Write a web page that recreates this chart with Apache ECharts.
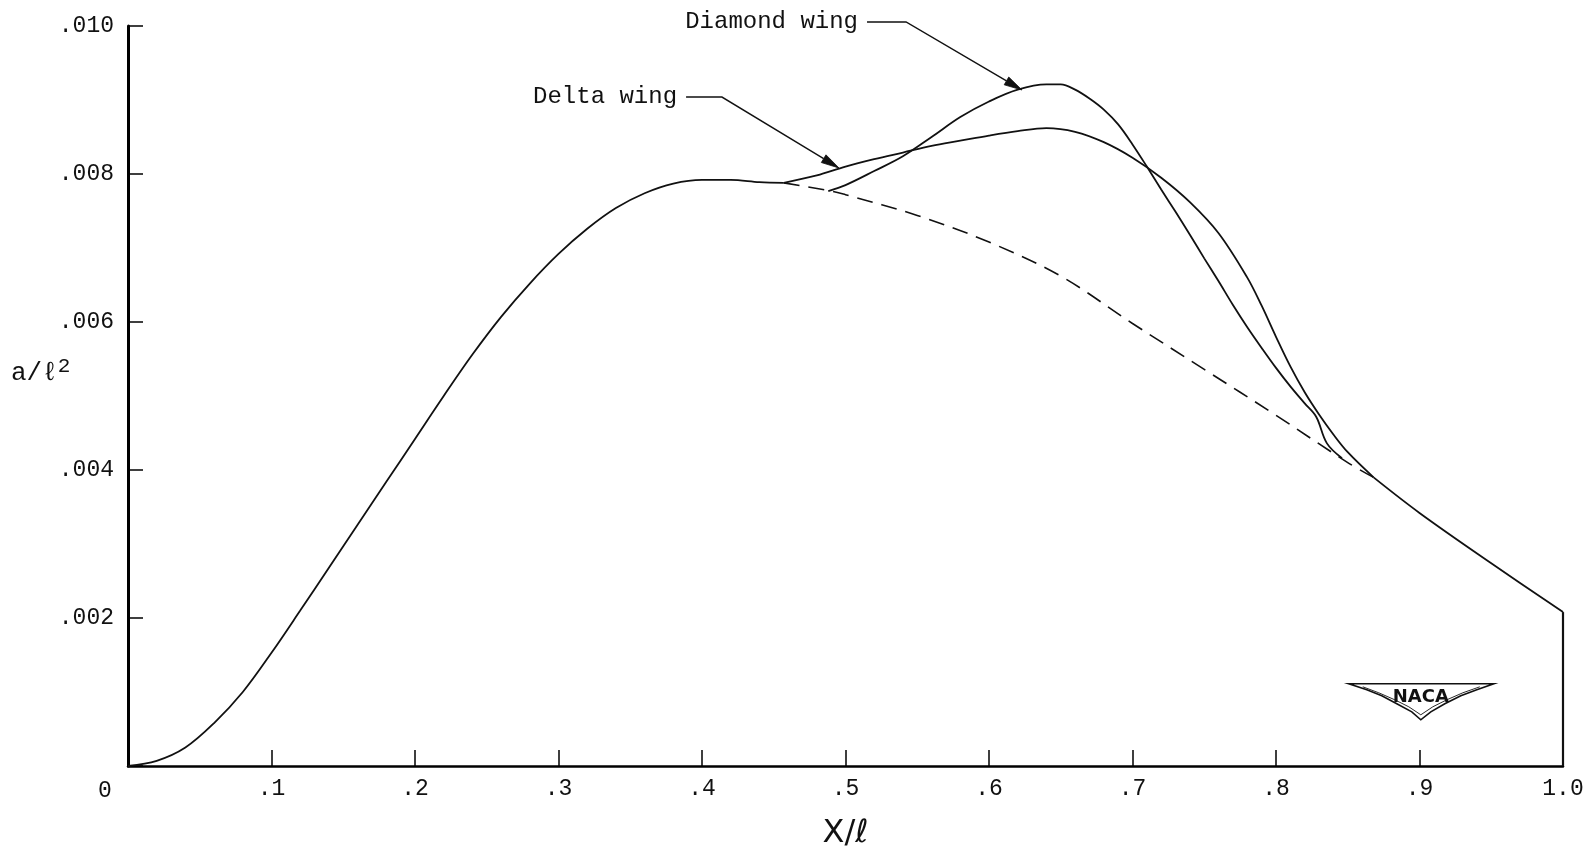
<!DOCTYPE html>
<html>
<head>
<meta charset="utf-8">
<title>a/l2 vs X/l</title>
<script src="https://cdn.jsdelivr.net/npm/echarts@6/dist/echarts.min.js"></script>
<style>
  html, body { margin: 0; padding: 0; background: #fff; }
  #chart { width: 1588px; height: 856px; }
</style>
</head>
<body>
<div id="chart"></div>
<script>
// common body curve, up to where the wing curves leave it
const common = [
  [0, 0], [0.02, 0.00007], [0.04, 0.00025], [0.06, 0.00058], [0.08, 0.00100],
  [0.1, 0.00153], [0.12, 0.00210], [0.14, 0.00268], [0.16, 0.00326], [0.18, 0.00384],
  [0.2, 0.00442], [0.22, 0.00500], [0.24, 0.00556], [0.26, 0.00607], [0.28, 0.00652],
  [0.3, 0.00692], [0.32, 0.00726], [0.34, 0.00754], [0.36, 0.00774], [0.38, 0.00787],
  [0.4, 0.00792], [0.42, 0.00792], [0.44, 0.00789], [0.457, 0.00788]
];

// delta wing branch
const delta = [
  [0.457, 0.00788], [0.48, 0.00798], [0.5, 0.00810], [0.52, 0.00820], [0.54, 0.00829],
  [0.56, 0.00838], [0.58, 0.00845], [0.6, 0.00852], [0.62, 0.00858], [0.64, 0.00862],
  [0.66, 0.00857], [0.68, 0.00843], [0.70, 0.00822], [0.72, 0.00795], [0.74, 0.00762],
  [0.76, 0.00720], [0.78, 0.00660], [0.79, 0.00622], [0.80, 0.00580], [0.81, 0.00540],
  [0.82, 0.00505], [0.83, 0.00475], [0.84, 0.00448], [0.85, 0.00424], [0.868, 0.00390]
];

// diamond wing branch
const diamond = [
  [0.488, 0.00777], [0.50, 0.00785], [0.52, 0.00804], [0.54, 0.00824], [0.56, 0.00850],
  [0.58, 0.00877], [0.60, 0.00898], [0.62, 0.00914], [0.64, 0.00921], [0.65, 0.00921],
  [0.66, 0.00914], [0.67, 0.00902], [0.68, 0.00887], [0.69, 0.00867], [0.70, 0.00840],
  [0.71, 0.00810], [0.72, 0.00779], [0.73, 0.00749], [0.74, 0.00718], [0.75, 0.00686],
  [0.76, 0.00655], [0.77, 0.00623], [0.78, 0.00593], [0.79, 0.00565], [0.80, 0.00538],
  [0.81, 0.00513], [0.82, 0.00490], [0.828, 0.00472], [0.8355, 0.00436], [0.846, 0.00416]
];

// body alone (dashed)
const body = [
  [0.457, 0.00788], [0.49, 0.00777], [0.5, 0.00772], [0.55, 0.00744], [0.6, 0.00708],
  [0.65, 0.00662], [0.7, 0.00598], [0.75, 0.00536], [0.8, 0.00474], [0.85, 0.00410],
  [0.868, 0.00390]
];

// common tail after the curves meet again
const tail = [[0.868, 0.00390], [0.9, 0.00342], [0.95, 0.00274], [1.0, 0.00208]];
const tailEnd = [[1.0, 0.00208], [1.0, 0]];

// annotation anchors (data units): label end, elbow, arrow tip
const diamondNote = { text: 'Diamond wing', pts: [[0.515, 0.010054], [0.5422, 0.010054], [0.623, 0.009135]] };
const deltaNote = { text: 'Delta wing', pts: [[0.3889, 0.00904], [0.4139, 0.00904], [0.4955, 0.008081]] };

const chart = echarts.init(document.getElementById('chart'));

const mono = 'Liberation Mono';
const ink = '#111';
const lineStyle = { color: ink, width: 1.8 };

const option = {
  backgroundColor: '#fff',
  animation: false,
  grid: { left: 128, right: 25, top: 26, bottom: 90, containLabel: false },
  xAxis: {
    type: 'value',
    min: 0, max: 1.0, interval: 0.1,
    splitLine: { show: false },
    axisLine: { lineStyle: { color: '#000', width: 2.5 } },
    axisTick: { inside: true, length: 16, lineStyle: { color: '#000', width: 1.5 } },
    axisLabel: {
      margin: 11,
      color: ink,
      fontFamily: mono,
      fontSize: 23,
      formatter: function (v) {
        if (v === 0) return '{z|0}';
        if (Math.abs(v - 1) < 1e-9) return '1.0';
        return v.toFixed(1).replace(/^0/, '');
      },
      rich: { z: { fontFamily: mono, fontSize: 23, color: ink, padding: [2, 46, 0, 0] } }
    },
    name: 'X/ℓ',
    nameLocation: 'middle',
    nameGap: 52,
    nameTextStyle: { fontFamily: 'DejaVu Sans', fontSize: 32, color: ink }
  },
  yAxis: {
    type: 'value',
    min: 0, max: 0.010, interval: 0.002,
    splitLine: { show: false },
    axisLine: { lineStyle: { color: '#000', width: 3 } },
    axisTick: { inside: true, length: 15, lineStyle: { color: '#000', width: 1.5 } },
    axisLabel: {
      margin: 14,
      color: ink,
      fontFamily: mono,
      fontSize: 23,
      formatter: function (v) {
        if (v === 0) return '';
        return v.toFixed(3).replace(/^0/, '');
      }
    }
  },
  series: [
    { name: 'common', type: 'line', data: common, smooth: 0.35,
      symbol: 'none', lineStyle: lineStyle },
    { name: 'Delta wing', type: 'line', data: delta, smooth: 0.35,
      symbol: 'none', lineStyle: lineStyle },
    { name: 'Diamond wing', type: 'line', data: diamond, smooth: 0.35,
      symbol: 'none', lineStyle: lineStyle },
    { name: 'body', type: 'line', data: body, smooth: 0.35,
      symbol: 'none', lineStyle: { color: ink, width: 1.6, type: [16, 9] } },
    { name: 'tail', type: 'line', data: tail, smooth: 0.35,
      symbol: 'none', lineStyle: lineStyle },
    { name: 'tail end', type: 'line', data: tailEnd,
      symbol: 'none', lineStyle: { color: ink, width: 2.2 } }
  ]
};

chart.setOption(option);

// leader line with filled arrowhead, placed through the grid's scales
function note(n) {
  const p = n.pts.map(function (d) { return chart.convertToPixel({ gridIndex: 0 }, d); });
  const a = p[1], t = p[2];
  const dx = t[0] - a[0], dy = t[1] - a[1];
  const len = Math.sqrt(dx * dx + dy * dy);
  const ux = dx / len, uy = dy / len;
  const bx = t[0] - 18 * ux, by = t[1] - 18 * uy;
  return [
    { type: 'text', x: p[0][0] - 9, y: p[0][1],
      style: { text: n.text, font: '24px "Liberation Mono"', fill: ink, align: 'right', verticalAlign: 'middle' } },
    { type: 'polyline', shape: { points: [p[0], a, [bx, by]] },
      style: { stroke: ink, lineWidth: 1.4, fill: null } },
    { type: 'polygon', shape: { points: [t, [bx - 4.5 * uy, by + 4.5 * ux], [bx + 4.5 * uy, by - 4.5 * ux]] },
      style: { fill: ink, stroke: ink, lineWidth: 0.8 } }
  ];
}

chart.setOption({
  graphic: [
    {
      type: 'text', left: 11, top: 356,
      style: {
        text: 'a/ℓ{sup|2}',
        rich: { sup: { fontFamily: mono, fontSize: 21, fill: ink, verticalAlign: 'top', padding: [0, 0, 14, 0] } },
        font: '26px "Liberation Mono"', fill: ink
      }
    },
    {
      type: 'group', left: 1348, top: 683,
      children: [
        { type: 'polygon',
          shape: { points: [[0, 2], [145, 2], [128, 8], [112, 14], [96, 22], [82, 30], [72, 38],
            [63, 30], [48, 22], [33, 14], [18, 8]] },
          style: { fill: '#fff', stroke: ink, lineWidth: 1.6 } },
        { type: 'polyline',
          shape: { points: [[14, 5], [30, 11], [46, 18], [60, 25], [72, 33], [84, 25], [98, 18], [114, 11], [131, 5]] },
          style: { stroke: ink, lineWidth: 0.9, fill: null } },
        { type: 'text', x: 72, y: 16,
          style: { text: 'NACA', font: 'bold 18px "DejaVu Sans"', fill: ink, align: 'center', verticalAlign: 'middle' } }
      ]
    }
  ].concat(note(diamondNote), note(deltaNote))
});
</script>
</body>
</html>
